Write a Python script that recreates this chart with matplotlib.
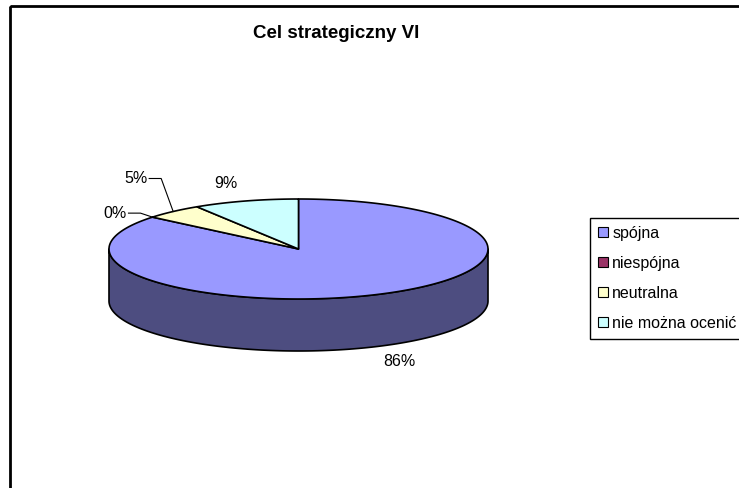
import numpy as np
import matplotlib
matplotlib.use("Agg")
import matplotlib.pyplot as plt
from matplotlib.patches import Polygon, Rectangle, Patch
from matplotlib.colors import to_rgb

plt.rcParams['font.family'] = ['Liberation Sans', 'DejaVu Sans']

# Data
title = "Cel strategiczny VI"
categories = ['spójna', 'niespójna', 'neutralna', 'nie można ocenić']
values = [86, 0, 5, 9]
colors = ['#9999FF', '#993366', '#FFFFCC', '#CCFFFF']

# Pie geometry (pixels)
W, H = 739, 488
cx, cy = 298.5, 249
a, b = 189.5, 50
depth = 52

fig = plt.figure(figsize=(W / 100, H / 100), dpi=100)
ax = fig.add_axes([0, 0, 1, 1])
ax.set_xlim(0, W)
ax.set_ylim(H, 0)
ax.axis('off')

# chart area border
ax.add_patch(Rectangle((10, 6), W, H, fill=False, edgecolor='black', lw=2))


def ell(t, dy=0):
    t = np.radians(t)
    return cx + a * np.cos(t), cy - b * np.sin(t) + dy


# slice angles, starting at 12 o'clock and going clockwise
total = sum(values)
cum = np.cumsum([0] + values)
t_start = 90 - 360 * cum[:-1] / total
t_end = 90 - 360 * cum[1:] / total

# side wall (front half only)
for i in range(len(values)):
    for k in (-360, 0, 360):
        lo = max(t_end[i], 180 + k)
        hi = min(t_start[i], 360 + k)
        if hi > lo:
            t = np.linspace(lo, hi, 200)
            x, y = ell(t)
            xb, yb = ell(t[::-1], depth)
            pts = np.column_stack([np.r_[x, xb], np.r_[y, yb]])
            side = np.array(to_rgb(colors[i])) * 0.5
            ax.add_patch(Polygon(pts, closed=True, facecolor=side,
                                 edgecolor='black', lw=1.2, joinstyle='round'))

# top face
for i in range(len(values)):
    if values[i] == 0:
        continue
    t = np.linspace(t_start[i], t_end[i], 300)
    x, y = ell(t)
    pts = np.column_stack([np.r_[cx, x], np.r_[cy, y]])
    ax.add_patch(Polygon(pts, closed=True, facecolor=colors[i],
                         edgecolor='black', lw=1.2, joinstyle='round'))

# data labels
mid = (t_start + t_end) / 2
offsets = [(20, 67), (-37, -4), (-37, -33), (-20, -17)]
leader = [False, True, True, False]
for i in range(len(values)):
    ax_, ay_ = ell(mid[i])
    lx, ly = ax_ + offsets[i][0], ay_ + offsets[i][1]
    ax.text(lx, ly, f"{values[i]}%", ha='center', va='center', fontsize=11.5)
    if leader[i]:
        x0 = lx + 13
        ax.plot([x0, x0 + 12, ax_], [ly, ly, ay_], color='black', lw=0.8)

ax.text(336, 33, title, ha='center', va='center', fontsize=13.5,
        fontweight='bold')

handles = [Patch(facecolor=c, edgecolor='black', lw=0.8) for c in colors]
ax.legend(handles, categories, loc='upper left',
          bbox_to_anchor=(590 / W, 1 - 218 / H), bbox_transform=fig.transFigure,
          fontsize=11.5, frameon=True, fancybox=False, edgecolor='black',
          framealpha=1, handlelength=0.6, handleheight=0.6, handletextpad=0.3,
          labelspacing=0.93, borderpad=0.5, borderaxespad=0)

fig.savefig("out.png", dpi=100)
